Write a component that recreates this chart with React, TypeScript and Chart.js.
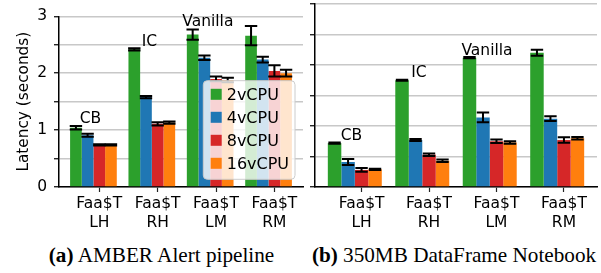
import React, { useEffect, useRef } from 'react';
import { Chart, registerables } from 'chart.js';

Chart.register(...registerables);

// ---------- data ----------
const groupLabels = [['Faa$T', 'LH'], ['Faa$T', 'RH'], ['Faa$T', 'LM'], ['Faa$T', 'RM']];
const seriesNames = ['2vCPU', '4vCPU', '8vCPU', '16vCPU'];
const seriesColors = ['#2ca02c', '#1f77b4', '#d62728', '#ff7f0e'];
const yTickValues = [0, 1, 2, 3];

// (a) AMBER Alert pipeline
const amber2 = [1.04, 2.42, 2.68, 2.66];
const amber4 = [0.91, 1.58, 2.27, 2.24];
const amber8 = [0.74, 1.11, 1.9, 2.04];
const amber16 = [0.74, 1.13, 1.88, 2.0];
const amberErr2 = [0.03, 0.02, 0.09, 0.17];
const amberErr4 = [0.025, 0.02, 0.04, 0.05];
const amberErr8 = [0.01, 0.03, 0.04, 0.1];
const amberErr16 = [0.01, 0.02, 0.04, 0.06];

// (b) 350MB DataFrame Notebook
const df2 = [0.72, 1.75, 2.12, 2.2];
const df4 = [0.41, 0.77, 1.14, 1.12];
const df8 = [0.28, 0.53, 0.75, 0.77];
const df16 = [0.29, 0.43, 0.73, 0.8];
const dfErr2 = [0.01, 0.01, 0.01, 0.05];
const dfErr4 = [0.05, 0.015, 0.08, 0.04];
const dfErr8 = [0.03, 0.02, 0.03, 0.045];
const dfErr16 = [0.01, 0.02, 0.02, 0.02];

// annotations (text, data x, data y)
const annotationTexts = ['CB', 'IC', 'Vanilla'];
const amberAnnotX = [-0.05, 0.96, 1.96];
const amberAnnotY = [1.13, 2.48, 2.83];
const dfAnnotX = [-0.05, 0.95, 1.96];
const dfAnnotY = [0.77, 1.81, 2.17];

const FONT = '"DejaVu Sans", sans-serif';

type PanelProps = {
  values: number[][];
  errors: number[][];
  annotX: number[];
  annotY: number[];
  showYLabels: boolean;
  showLegend: boolean;
  width: number;
  height: number;
  padTop: number;
  padRight: number;
  yWidth: number;
  left: number;
};

function BarPanel(p: PanelProps) {
  const ref = useRef<HTMLCanvasElement | null>(null);
  useEffect(() => {
    if (!ref.current) return;
    const datasets = p.values.map((vals, di) => ({
      label: seriesNames[di],
      data: vals.map((v, i) => ({ x: i, y: v })),
      backgroundColor: seriesColors[di],
      borderWidth: 0,
      categoryPercentage: 0.8,
      barPercentage: 1.0,
    }));

    const errorBars = {
      id: 'errorBars',
      afterDatasetsDraw(chart: any) {
        const ctx = chart.ctx;
        const ys = chart.scales.y;
        ctx.save();
        ctx.strokeStyle = '#000';
        ctx.lineWidth = 2;
        p.errors.forEach((errs, di) => {
          const meta = chart.getDatasetMeta(di);
          meta.data.forEach((bar: any, i: number) => {
            const v = p.values[di][i];
            const e = errs[i];
            const x = bar.x;
            const yt = ys.getPixelForValue(v + e);
            const yb = ys.getPixelForValue(v - e);
            const cw = 6.2;
            ctx.beginPath();
            ctx.moveTo(x, yt);
            ctx.lineTo(x, yb);
            ctx.moveTo(x - cw, yt);
            ctx.lineTo(x + cw, yt);
            ctx.moveTo(x - cw, yb);
            ctx.lineTo(x + cw, yb);
            ctx.stroke();
          });
        });
        ctx.restore();
      },
    };

    const annotations = {
      id: 'annots',
      afterDatasetsDraw(chart: any) {
        const ctx = chart.ctx;
        const xs = chart.scales.x;
        const ys = chart.scales.y;
        ctx.save();
        ctx.fillStyle = '#000';
        ctx.font = `15.5px ${FONT}`;
        ctx.textAlign = 'center';
        ctx.textBaseline = 'alphabetic';
        annotationTexts.forEach((t, i) => {
          ctx.fillText(t, xs.getPixelForValue(p.annotX[i]), ys.getPixelForValue(p.annotY[i]));
        });
        ctx.restore();
      },
    };

    const legendBox = {
      id: 'legendBox',
      afterDraw(chart: any) {
        if (!p.showLegend) return;
        const ctx = chart.ctx;
        const a = chart.chartArea;
        const bx = a.right - 99.7;
        const by = a.bottom - 106.3;
        const bw = 91.7;
        const bh = 98.6;
        ctx.save();
        ctx.beginPath();
        if (ctx.roundRect) ctx.roundRect(bx, by, bw, bh, 4);
        else ctx.rect(bx, by, bw, bh);
        ctx.fillStyle = 'rgba(255,255,255,0.8)';
        ctx.fill();
        ctx.strokeStyle = '#cccccc';
        ctx.lineWidth = 1;
        ctx.stroke();
        ctx.font = `16px ${FONT}`;
        ctx.textAlign = 'left';
        ctx.textBaseline = 'alphabetic';
        seriesNames.forEach((name, i) => {
          const cy = by + 13.6 + i * 23;
          ctx.fillStyle = seriesColors[i];
          ctx.fillRect(bx + 7.4, cy - 5.5, 11, 11);
          ctx.fillStyle = '#000';
          ctx.fillText(name, bx + 23.4, cy + 5.8);
        });
        ctx.restore();
      },
    };

    const chart = new Chart(ref.current, {
      type: 'bar',
      data: { datasets } as any,
      options: {
        animation: false,
        responsive: false,
        maintainAspectRatio: false,
        layout: { padding: { top: p.padTop, right: p.padRight, left: 0, bottom: 0 } },
        plugins: { legend: { display: false }, tooltip: { enabled: false } },
        scales: {
          x: {
            type: 'linear',
            min: -0.59,
            max: 3.59,
            offset: false,
            grid: {
              offset: false,
              drawOnChartArea: false,
              drawTicks: true,
              tickLength: 5,
              tickColor: '#222',
              tickWidth: 1.2,
            },
            border: { display: true, color: '#000', width: 1.5 },
            afterBuildTicks: (s: any) => {
              s.ticks = groupLabels.map((_, i) => ({ value: i + 0.1 }));
            },
            ticks: {
              callback: (_v: any, i: number) => groupLabels[i],
              font: { family: FONT, size: 15.5, lineHeight: 1.2 },
              color: '#000',
              padding: 3,
              maxRotation: 0,
              autoSkip: false,
            },
            afterFit: (s: any) => {
              s.height = 53;
            },
          } as any,
          y: {
            min: 0,
            max: 3,
            ticks: {
              display: p.showYLabels,
              stepSize: 0.5,
              callback: (v: any) => (yTickValues.includes(v) ? String(v) : ''),
              font: { family: FONT, size: 15.5 },
              color: '#000',
              padding: 7,
            },
            grid: {
              color: '#c8c8c8',
              lineWidth: 1.5,
              tickColor: '#000',
              tickLength: 5,
              tickWidth: 1.2,
            },
            border: { display: true, color: '#000', width: 1.5 },
            title: {
              display: p.showYLabels,
              text: 'Latency (seconds)',
              font: { family: FONT, size: 15.3 },
              color: '#000',
              padding: { top: 15, bottom: 0 },
            },
            afterFit: (s: any) => {
              s.width = p.yWidth;
            },
          } as any,
        },
      },
      plugins: [errorBars, annotations, legendBox],
    } as any);
    return () => chart.destroy();
  }, []);
  return (
    <canvas
      ref={ref}
      width={p.width}
      height={p.height}
      style={{ position: 'absolute', left: p.left, top: 0, width: p.width, height: p.height, display: 'block' }}
    />
  );
}

const captionStyle: React.CSSProperties = {
  position: 'absolute',
  top: 245,
  textAlign: 'center',
  fontFamily: '"Liberation Serif", "Times New Roman", serif',
  fontSize: 21.2,
  lineHeight: '21px',
  whiteSpace: 'nowrap',
  color: '#000',
};

export default function App() {
  return (
    <div style={{ position: 'fixed', left: 0, top: 0, width: 601, height: 273, background: '#fff', overflow: 'hidden' }}>
      <BarPanel
        values={[amber2, amber4, amber8, amber16]}
        errors={[amberErr2, amberErr4, amberErr8, amberErr16]}
        annotX={amberAnnotX}
        annotY={amberAnnotY}
        showYLabels={true}
        showLegend={true}
        width={305}
        height={240}
        padTop={9}
        padRight={2}
        yWidth={59}
        left={0}
      />
      <BarPanel
        values={[df2, df4, df8, df16]}
        errors={[dfErr2, dfErr4, dfErr8, dfErr16]}
        annotX={dfAnnotX}
        annotY={dfAnnotY}
        showYLabels={false}
        showLegend={false}
        width={296}
        height={240}
        padTop={4}
        padRight={4}
        yWidth={10}
        left={305}
      />
      <div style={{ ...captionStyle, left: 0, width: 323 }}>
        <b>(a)</b> AMBER Alert pipeline
      </div>
      <div style={{ ...captionStyle, left: 307, width: 294 }}>
        <b>(b)</b> 350MB DataFrame Notebook
      </div>
    </div>
  );
}
